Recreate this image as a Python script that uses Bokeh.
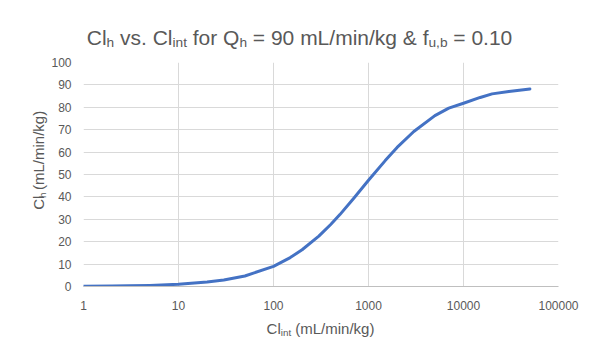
import math
from bokeh.plotting import figure
from bokeh.models import FixedTicker, Range1d, ColumnDataSource
from bokeh.layouts import column, row
from bokeh.core.properties import value
from bokeh.embed import file_html
from bokeh.resources import INLINE

# ---- data ----
cl_int = [1, 2, 3, 5, 10, 20, 30, 50, 100, 150, 200, 300, 400, 500, 700, 1000, 1500,
          2000, 3000, 5000, 7000, 10000, 15000, 20000, 30000, 50000]
cl_h = [0.1, 0.2, 0.3, 0.5, 1.0, 2.0, 2.9, 4.7, 9.0, 12.9, 16.4, 22.5, 27.7, 32.1,
        39.4, 47.4, 56.2, 62.1, 69.2, 76.3, 79.6, 81.8, 84.4, 86.0, 87.1, 88.2]
x_ticks = [1, 10, 100, 1000, 10000, 100000]
x_tick_labels = ["1", "10", "100", "1000", "10000", "100000"]
y_ticks = [0, 10, 20, 30, 40, 50, 60, 70, 80, 90, 100]

title_pieces = [("Cl", False), ("h", True), (" vs. Cl", False), ("int", True),
                (" for Q", False), ("h", True), (" = 90 mL/min/kg & f", False),
                ("u,b", True), (" = 0.10", False)]
xtitle_pieces = [("Cl", False), ("int", True), (" (mL/min/kg)", False)]
ytitle_pieces = [("Cl", False), ("h", True), (" (mL/min/kg)", False)]

# ---- layout (pixels) ----
W = 584
TOP_H = 50          # title strip
MID_H = 270         # y-label strip + main chart
BOT_H = 25          # x-label strip
YL_W = 48           # y-label strip width
FONT = "Liberation Sans"
TXT = "#595959"

# ---- main chart ----
p = figure(width=W - YL_W, height=MID_H, x_axis_type="log",
           x_range=Range1d(1, 100000), y_range=Range1d(0, 100),
           output_backend="svg", toolbar_location=None, title=None,
           min_border_left=82 - YL_W, min_border_right=W - 558,
           min_border_top=62 - TOP_H, min_border_bottom=TOP_H + MID_H - 286)
p.outline_line_color = None
p.background_fill_color = "white"
p.border_fill_color = "white"

p.line(cl_int, cl_h, line_color="#4472C4", line_width=3, line_join="round", line_cap="round")

p.xaxis.ticker = FixedTicker(ticks=x_ticks, minor_ticks=[])
p.xaxis.major_label_overrides = {t: s for t, s in zip(x_ticks, x_tick_labels)}
p.yaxis.ticker = FixedTicker(ticks=y_ticks, minor_ticks=[])
for ax in (p.xaxis, p.yaxis):
    ax.major_tick_line_color = None
    ax.minor_tick_line_color = None
    ax.major_tick_out = 0
    ax.major_tick_in = 0
    ax.minor_tick_out = 0
    ax.minor_tick_in = 0
    ax.major_label_text_font = FONT
    ax.major_label_text_font_size = "12px"
    ax.major_label_text_color = TXT
p.xaxis.major_label_standoff = 14
p.yaxis.major_label_standoff = 12
p.xaxis.axis_line_color = "#bfbfbf"
p.xaxis.axis_line_width = 1
p.yaxis.axis_line_color = None
p.xgrid.ticker = FixedTicker(ticks=x_ticks, minor_ticks=[])
p.ygrid.ticker = FixedTicker(ticks=y_ticks, minor_ticks=[])
p.xgrid.grid_line_color = "#d9d9d9"
p.ygrid.grid_line_color = "#d9d9d9"
p.xgrid.grid_line_width = 1
p.ygrid.grid_line_width = 1

# ---- text strips (pixel coordinate figures) ----
def strip(w, h):
    f = figure(width=w, height=h, x_range=Range1d(0, w), y_range=Range1d(0, h),
               x_axis_location=None, y_axis_location=None,
               output_backend="svg", toolbar_location=None, title=None,
               min_border=0)
    f.grid.visible = False
    f.outline_line_color = None
    f.background_fill_color = "white"
    f.border_fill_color = "white"
    return f

# advance widths (em) of Liberation Sans (Arial-compatible metrics)
EM = {"C": .722, "l": .222, "h": .556, " ": .278, "v": .5, "s": .5, ".": .278,
      "i": .222, "n": .556, "t": .278, "f": .278, "o": .556, "r": .333, "Q": .778,
      "=": .584, "m": .833, "L": .556, "/": .278, "k": .5, "g": .556, "&": .667,
      "u": .556, ",": .278, "b": .556, "(": .333, ")": .333}
for d in "0123456789":
    EM[d] = .556

SUB = 0.65

def width(s, fs):
    return sum(EM.get(c, .556) for c in s) * fs

def rich(f, pieces, cx, base, fs, drop, vertical=False):
    # cx: centre along the text direction, base: baseline position (pixels from top/left)
    h = f.height
    sizes = [fs * SUB if sub else fs for _, sub in pieces]
    total = sum(width(t, s) for (t, _), s in zip(pieces, sizes))
    xs, ys, txt, fss = [], [], [], []
    pos = cx - total / 2.0 if not vertical else cx + total / 2.0
    for (t, sub), s in zip(pieces, sizes):
        off = drop if sub else 0.0
        lead = len(t) - len(t.lstrip(" "))
        shift = width(" " * lead, s)
        body = t.strip(" ")
        if not vertical:
            xs.append(pos + shift)
            ys.append(h - (base + off))
            pos += width(t, s)
        else:
            xs.append(base + off)
            ys.append(h - (pos - shift))
            pos -= width(t, s)
        txt.append(body)
        fss.append("%.1fpx" % s)
    src = ColumnDataSource(dict(x=xs, y=ys, text=txt, fs=fss))
    f.text(x="x", y="y", text="text", source=src, text_font=value(FONT),
           text_font_size="fs", text_color=TXT, text_align="left",
           text_baseline="alphabetic", angle=(math.pi / 2 if vertical else 0.0))

top = strip(W, TOP_H)
rich(top, title_pieces, 299, 36.7, 21, 5.5)

yl = strip(YL_W, MID_H)
rich(yl, ytitle_pieces, 176 - TOP_H, 38, 15, 3.5, vertical=True)

bot = strip(W, BOT_H)
rich(bot, xtitle_pieces, 320, 328 - TOP_H - MID_H, 15, 4)

layout = column(top, row(yl, p, spacing=0), bot, spacing=0)

html = file_html(layout, INLINE)
open("out.html", "w").write(html)
